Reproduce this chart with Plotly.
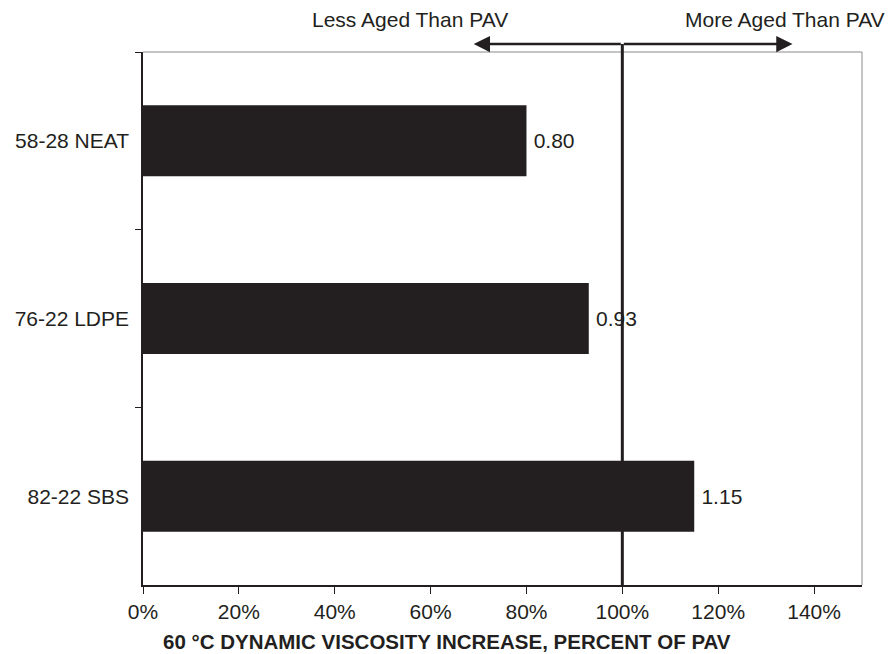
import plotly.graph_objects as go

# Binder grades and their 60 °C viscosity increase relative to PAV aging
binders = ["58-28 NEAT", "76-22 LDPE", "82-22 SBS"]
ratio_to_pav = [0.80, 0.93, 1.15]
tick_vals = [0, 0.2, 0.4, 0.6, 0.8, 1.0, 1.2, 1.4]
tick_text = ["0%", "20%", "40%", "60%", "80%", "100%", "120%", "140%"]

ink = "#231f20"
font_family = "Liberation Sans, Arial, sans-serif"
fs = 21

fig = go.Figure(
    go.Bar(
        x=ratio_to_pav,
        y=binders,
        orientation="h",
        marker=dict(color=ink, line=dict(width=0)),
        text=[f"\u2009{v:.2f}" for v in ratio_to_pav],
        textposition="outside",
        textfont=dict(size=fs, color=ink, family=font_family),
        cliponaxis=False,
        width=0.4,
    )
)

fig.update_layout(
    width=893,
    height=654,
    margin=dict(l=143, r=31, t=52, b=69),
    paper_bgcolor="white",
    plot_bgcolor="white",
    font=dict(family=font_family, size=fs, color=ink),
    showlegend=False,
    xaxis=dict(
        range=[0, 1.5],
        tickvals=tick_vals,
        ticktext=tick_text,
        showgrid=False,
        zeroline=False,
        showline=True,
        linecolor=ink,
        linewidth=1.5,
        ticks="outside",
        ticklen=7,
        tickcolor=ink,
        tickfont=dict(size=fs, color=ink),
    ),
    yaxis=dict(
        autorange="reversed",
        showgrid=False,
        zeroline=False,
        showline=True,
        linecolor=ink,
        linewidth=1.5,
        ticks="outside",
        tickson="boundaries",
        ticklen=6,
        tickcolor=ink,
        tickfont=dict(size=fs, color=ink),
        ticklabelstandoff=8,
    ),
)

# axis title, centred on the page
fig.add_annotation(x=0.5, y=641, xref="paper", yref="paper", showarrow=False,
                   text="<b>60 °C DYNAMIC VISCOSITY INCREASE, PERCENT OF PAV</b>",
                   font=dict(size=20.5, color=ink))
fig.layout.annotations[-1].update(x=(446.5 - 143) / 719, y=(585 - 641) / 533,
                                  yanchor="middle")

# light frame on the top and right sides of the plot area
fig.add_shape(type="line", xref="paper", yref="paper", x0=0, x1=1, y0=1, y1=1,
              line=dict(color="#8a8a8a", width=1), layer="below")
fig.add_shape(type="line", xref="paper", yref="paper", x0=1, x1=1, y0=0, y1=1,
              line=dict(color="#8a8a8a", width=1), layer="below")

# PAV reference line at 100 %
arrow_y = 1.015
fig.add_shape(type="line", xref="x", yref="paper", x0=1.0, x1=1.0, y0=0, y1=arrow_y,
              line=dict(color=ink, width=3))

# direction arrows from the reference line
for tip in (0.69, 1.355):
    fig.add_annotation(
        x=tip, y=arrow_y, xref="x", yref="paper",
        ax=1.0, ay=0, axref="x", ayref="pixel",
        showarrow=True, arrowhead=2, arrowsize=1.3, arrowwidth=2.5,
        arrowcolor=ink, text="",
    )

fig.add_annotation(x=0.557, y=1.061, xref="x", yref="paper", yanchor="middle",
                   text="Less Aged Than PAV", showarrow=False,
                   font=dict(size=fs, color=ink))
fig.add_annotation(x=1.34, y=1.061, xref="x", yref="paper", yanchor="middle",
                   text="More Aged Than PAV", showarrow=False,
                   font=dict(size=fs, color=ink))

fig.write_html("out.html")
